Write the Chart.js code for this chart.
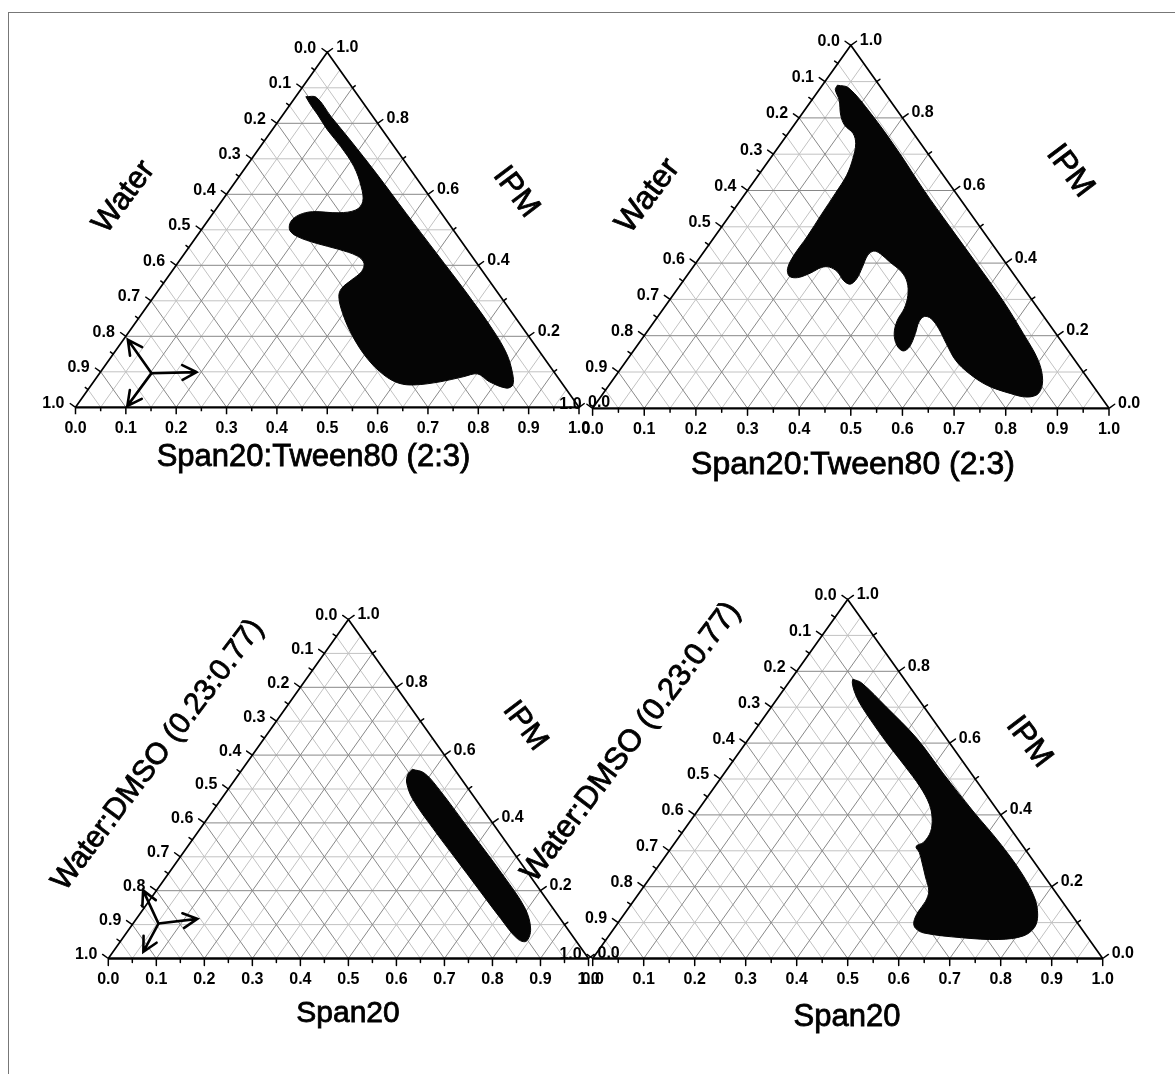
<!DOCTYPE html>
<html>
<head>
<meta charset="utf-8">
<script src="https://cdn.jsdelivr.net/npm/chart.js@4.4.1/dist/chart.umd.min.js"></script>
<style>
html, body { margin: 0; padding: 0; background: #fff; }
#wrap { position: relative; width: 1175px; height: 1074px; overflow: hidden; }
#frame { position: absolute; left: 8px; top: 12px; right: -2px; bottom: -2px; border-top: 1px solid #777; border-left: 1px solid #777; }
#chart { position: absolute; left: 0; top: 0; }
</style>
</head>
<body>
<div id="wrap">
  <div id="frame"></div>
  <canvas id="chart" width="1175" height="1074"></canvas>
</div>
<script>
// axis ticks (mass fractions)
const bottomTicks = [0, 0.1, 0.2, 0.3, 0.4, 0.5, 0.6, 0.7, 0.8, 0.9, 1.0];
const bottomLabels = ["0.0", "0.1", "0.2", "0.3", "0.4", "0.5", "0.6", "0.7", "0.8", "0.9", "1.0"];
const waterTicks = [0, 0.1, 0.2, 0.3, 0.4, 0.5, 0.6, 0.7, 0.8, 0.9, 1.0];
const waterLabels = ["0.0", "0.1", "0.2", "0.3", "0.4", "0.5", "0.6", "0.7", "0.8", "0.9", "1.0"];
const ipmTicks = [1.0, 0.8, 0.6, 0.4, 0.2, 0.0];
const ipmLabels = ["1.0", "0.8", "0.6", "0.4", "0.2", "0.0"];
const minorStep = 0.05;

const surfTitles = ["Span20:Tween80 (2:3)", "Span20:Tween80 (2:3)", "Span20", "Span20"];
const waterTitles = ["Water", "Water", "Water:DMSO (0.23:0.77)", "Water:DMSO (0.23:0.77)"];
const oilTitle = "IPM";

// region boundaries: surfactant fraction / IPM fraction (water = rest)
const regionA_surf = [0.020, 0.042, 0.098, 0.169, 0.268, 0.384, 0.500, 0.617, 0.720, 0.780, 0.820, 0.837, 0.829, 0.786, 0.752, 0.727, 0.689, 0.641, 0.608, 0.567, 0.510, 0.447, 0.398, 0.367, 0.361, 0.369, 0.377, 0.370, 0.347, 0.300, 0.247, 0.200, 0.176, 0.166, 0.173, 0.195, 0.249, 0.279, 0.281, 0.257, 0.214, 0.160, 0.110, 0.070, 0.041, 0.020];
const regionA_ipm  = [0.875, 0.873, 0.819, 0.753, 0.659, 0.546, 0.434, 0.321, 0.218, 0.152, 0.096, 0.063, 0.054, 0.072, 0.094, 0.086, 0.072, 0.063, 0.068, 0.091, 0.138, 0.204, 0.265, 0.312, 0.335, 0.359, 0.382, 0.406, 0.426, 0.445, 0.462, 0.481, 0.499, 0.523, 0.542, 0.551, 0.548, 0.556, 0.579, 0.621, 0.678, 0.734, 0.781, 0.823, 0.852, 0.875];

const regionB_surf = [0.029, 0.054, 0.133, 0.235, 0.341, 0.442, 0.544, 0.645, 0.731, 0.797, 0.833, 0.843, 0.826, 0.788, 0.733, 0.681, 0.637, 0.596, 0.560, 0.532, 0.516, 0.513, 0.522, 0.529, 0.522, 0.502, 0.481, 0.469, 0.466, 0.455, 0.435, 0.410, 0.374, 0.344, 0.328, 0.322, 0.328, 0.333, 0.328, 0.311, 0.286, 0.264, 0.249, 0.236, 0.217, 0.199, 0.185, 0.179, 0.179, 0.176, 0.174, 0.171, 0.160, 0.145, 0.126, 0.098, 0.077, 0.053, 0.031, 0.029];
const regionB_ipm  = [0.890, 0.883, 0.812, 0.711, 0.601, 0.500, 0.399, 0.298, 0.206, 0.132, 0.077, 0.041, 0.031, 0.041, 0.063, 0.096, 0.132, 0.178, 0.220, 0.247, 0.253, 0.238, 0.206, 0.169, 0.158, 0.174, 0.206, 0.242, 0.275, 0.311, 0.348, 0.376, 0.403, 0.426, 0.433, 0.422, 0.389, 0.357, 0.342, 0.351, 0.376, 0.389, 0.388, 0.373, 0.360, 0.364, 0.385, 0.422, 0.472, 0.536, 0.592, 0.642, 0.688, 0.729, 0.757, 0.780, 0.807, 0.849, 0.878, 0.890];

const regionC_surf = [0.354, 0.383, 0.431, 0.568, 0.705, 0.794, 0.836, 0.845, 0.823, 0.758, 0.621, 0.484, 0.398, 0.363, 0.352, 0.354];
const regionC_ipm  = [0.558, 0.548, 0.507, 0.374, 0.240, 0.148, 0.087, 0.051, 0.058, 0.118, 0.251, 0.384, 0.471, 0.517, 0.543, 0.558];

const regionD_surf = [0.121, 0.143, 0.225, 0.328, 0.428, 0.540, 0.635, 0.723, 0.782, 0.812, 0.823, 0.813, 0.770, 0.694, 0.614, 0.591, 0.579, 0.573, 0.573, 0.565, 0.539, 0.513, 0.493, 0.478, 0.487, 0.486, 0.470, 0.445, 0.403, 0.344, 0.273, 0.215, 0.169, 0.141, 0.125, 0.121];
const regionD_ipm  = [0.778, 0.768, 0.701, 0.614, 0.517, 0.411, 0.324, 0.237, 0.169, 0.121, 0.087, 0.063, 0.053, 0.058, 0.071, 0.084, 0.101, 0.130, 0.159, 0.188, 0.227, 0.266, 0.295, 0.312, 0.324, 0.353, 0.391, 0.430, 0.478, 0.536, 0.604, 0.662, 0.710, 0.744, 0.768, 0.778];

// direction glyph: centre, IPM arrow, surfactant arrow, water arrow
const arrowA_surf = [0.103, 0.009, 0.191, 0.101];
const arrowA_ipm  = [0.096, 0.190, 0.099, 0.004];
const arrowC_surf = [0.053, -0.028, 0.127, 0.063];
const arrowC_ipm  = [0.103, 0.201, 0.117, 0.020];

// page layout of the four triangles
const panels = [
  { left: 75.5, right: 579, base: 407.3, top: 52.3, surf: regionA_surf, ipm: regionA_ipm, arrS: arrowA_surf, arrP: arrowA_ipm,
    tB: [313.5, 457], tL: [124, 197], tR: [516, 192], fs: 31 },
  { left: 592.6, right: 1109, base: 408.3, top: 45.3, surf: regionB_surf, ipm: regionB_ipm,
    tB: [853, 465], tL: [648, 196], tR: [1070, 171], fs: 32 },
  { left: 108.3, right: 588.5, base: 958.5, top: 619.5, surf: regionC_surf, ipm: regionC_ipm, arrS: arrowC_surf, arrP: arrowC_ipm,
    tB: [348, 1014], tL: [158, 755], tR: [525, 726], fs: 30 },
  { left: 592.7, right: 1102.7, base: 958.5, top: 599.5, surf: regionD_surf, ipm: regionD_ipm,
    tB: [847, 1017], tL: [631, 742], tR: [1029, 742], fs: 31 }
];

function toXY(pn, s, p) {
  const w = pn.right - pn.left, h = pn.base - pn.top;
  return { x: pn.left + (s + p / 2) * w, y: pn.base - p * h };
}

function gridData(pn, major) {
  const pts = [];
  const seg = (a, b) => { pts.push(toXY(pn, a[0], a[1]), toXY(pn, b[0], b[1]), { x: null, y: null }); };
  for (let k = 1; k < 20; k++) {
    if ((k % 2 === 0) !== major) continue;
    const v = k * minorStep;
    seg([v, 0], [v, 1 - v]);
    seg([1 - v, 0], [0, 1 - v]);
  }
  for (let k = 1; k < 10; k++) {
    if ((k % 2 === 0) !== major) continue;
    const v = k * 0.1;
    seg([0, v], [1 - v, v]);
  }
  return pts;
}

let datasets = [];
panels.forEach((pn) => {
  datasets.push({ data: gridData(pn, false), showLine: true, borderColor: "#c2c2c2", borderWidth: 1, pointRadius: 0, spanGaps: false, order: 5 });
  datasets.push({ data: gridData(pn, true), showLine: true, borderColor: "#888", borderWidth: 1, pointRadius: 0, spanGaps: false, order: 4 });
  datasets.push({
    data: pn.surf.map((s, i) => toXY(pn, s, pn.ipm[i])),
    showLine: true, fill: "shape", backgroundColor: "#050505", borderColor: "#050505", borderWidth: 1,
    tension: 0.35, pointRadius: 0, order: 3
  });
  datasets.push({
    data: [toXY(pn, 0, 0), toXY(pn, 0, 1), toXY(pn, 1, 0)],
    showLine: true, borderColor: "#000", borderWidth: 1.7, pointRadius: 0, order: 2
  });
  datasets.push({
    data: [toXY(pn, 0, 0), toXY(pn, 1, 0)],
    showLine: true, borderColor: "#000", borderWidth: 2.3, pointRadius: 0, order: 1
  });
});

function arrowLine(ctx, x0, y0, x1, y1) {
  const a = Math.atan2(y1 - y0, x1 - x0), L = 16, hw = 0.48;
  ctx.beginPath();
  ctx.moveTo(x0, y0); ctx.lineTo(x1, y1);
  ctx.moveTo(x1 - L * Math.cos(a - hw), y1 - L * Math.sin(a - hw));
  ctx.lineTo(x1, y1);
  ctx.lineTo(x1 - L * Math.cos(a + hw), y1 - L * Math.sin(a + hw));
  ctx.stroke();
}

function heavyText(ctx, txt, x, y) {
  ctx.fillText(txt, x, y);
  ctx.strokeText(txt, x, y);
}

const ternaryDecor = {
  id: "ternaryDecor",
  afterDatasetsDraw(chart) {
    const { ctx, scales: { x, y } } = chart;
    const px = (pn, s, p) => { const q = toXY(pn, s, p); return [x.getPixelForValue(q.x), y.getPixelForValue(q.y)]; };
    ctx.save();
    panels.forEach((pn, i) => {
      const w = pn.right - pn.left, h = pn.base - pn.top;
      const len = Math.hypot(h, w / 2);
      const nL = [-h / len, -w / 2 / len], nR = [h / len, -w / 2 / len];
      ctx.strokeStyle = "#000";
      ctx.lineWidth = 1.5;
      ctx.beginPath();
      for (let k = 0; k <= 20; k++) {
        const v = k * minorStep, t = k % 2 === 0 ? 7 : 4;
        let [bx, by] = px(pn, v, 0);
        ctx.moveTo(bx, by); ctx.lineTo(bx, by + t);
        let [lx, ly] = px(pn, 0, 1 - v);
        ctx.moveTo(lx, ly); ctx.lineTo(lx + nL[0] * t, ly + nL[1] * t);
      }
      for (let k = 0; k <= 10; k++) {
        const q = k * 0.1, t = k % 2 === 0 ? 7 : 4;
        let [rx, ry] = px(pn, 1 - q, q);
        ctx.moveTo(rx, ry); ctx.lineTo(rx + nR[0] * t, ry + nR[1] * t);
      }
      ctx.stroke();

      ctx.fillStyle = "#000";
      ctx.font = 'bold 16px "Liberation Sans", Arial, sans-serif';
      ctx.textBaseline = "middle";
      ctx.textAlign = "center";
      bottomTicks.forEach((v, j) => { const [bx, by] = px(pn, v, 0); ctx.fillText(bottomLabels[j], bx, by + 21); });
      ctx.textAlign = "right";
      waterTicks.forEach((v, j) => { const [lx, ly] = px(pn, 0, 1 - v); ctx.fillText(waterLabels[j], lx - 11, ly - 4); });
      ctx.textAlign = "left";
      ipmTicks.forEach((v, j) => { const [rx, ry] = px(pn, 1 - v, v); ctx.fillText(ipmLabels[j], rx + 9, ry - 5); });

      const ang = Math.atan2(h, w / 2) - 0.03;
      ctx.font = pn.fs + 'px "Liberation Sans", Arial, sans-serif';
      ctx.lineWidth = 0.8;
      ctx.textAlign = "center";
      heavyText(ctx, surfTitles[i], x.getPixelForValue(pn.tB[0]), y.getPixelForValue(pn.tB[1]));
      ctx.save();
      ctx.translate(x.getPixelForValue(pn.tL[0]), y.getPixelForValue(pn.tL[1]));
      ctx.rotate(-ang);
      heavyText(ctx, waterTitles[i], 0, 0);
      ctx.restore();
      ctx.save();
      ctx.translate(x.getPixelForValue(pn.tR[0]), y.getPixelForValue(pn.tR[1]));
      ctx.rotate(ang);
      heavyText(ctx, oilTitle, 0, 0);
      ctx.restore();

      if (pn.arrS) {
        ctx.lineWidth = 2.6;
        ctx.lineCap = "round";
        const c = px(pn, pn.arrS[0], pn.arrP[0]);
        for (let j = 1; j < 4; j++) {
          const e = px(pn, pn.arrS[j], pn.arrP[j]);
          arrowLine(ctx, c[0], c[1], e[0], e[1]);
        }
      }
    });
    ctx.restore();
  }
};

new Chart(document.getElementById("chart"), {
  type: "scatter",
  data: { datasets: datasets },
  options: {
    responsive: false,
    animation: false,
    events: [],
    layout: { padding: 0 },
    scales: {
      x: { type: "linear", min: 0, max: 1175, display: false },
      y: { type: "linear", min: 0, max: 1074, reverse: true, display: false }
    },
    plugins: { legend: { display: false }, tooltip: { enabled: false } }
  },
  plugins: [ternaryDecor]
});
</script>
</body>
</html>
